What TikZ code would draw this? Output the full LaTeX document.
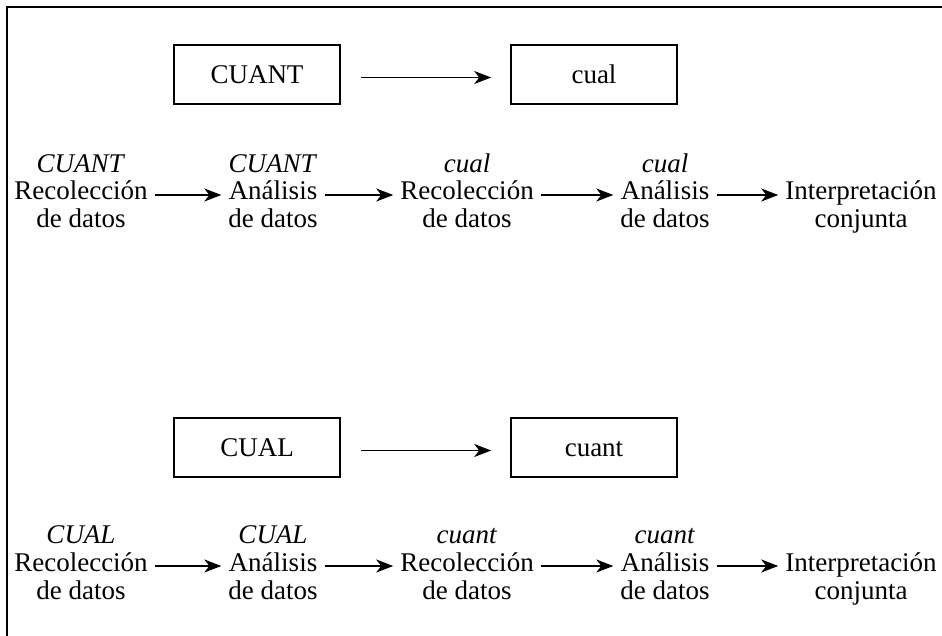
\documentclass[tikz,border=0pt]{standalone}
\usepackage{fontspec}
\setmainfont{Liberation Serif}
\usetikzlibrary{arrows.meta}
\begin{document}
\begin{tikzpicture}[x=0.5pt,y=-0.5pt,
        font=\fontsize{13.5}{14}\selectfont,
        >={Stealth[length=8.5pt,width=6.5pt,inset=2.5pt]}]
        \useasboundingbox (0,0) rectangle (942,636);
        \draw [line width=1pt] (942,7) -- (7,7) -- (7,636);

        \begin{scope}[every node/.style={draw, line width=0.8pt, minimum width=83pt, minimum height=29.5pt, text height=8.8pt, text depth=0pt}]
            \node (CUANT) at (257,74.5) {CUANT};
            \node (cual) at (594,74.5) {cual};
            \node (CUAL) at (257,447.5) {CUAL};
            \node (cuant) at (594,447.5) {cuant};
        \end{scope}

        \begin{scope}[every node/.style={align=center, anchor=base}]
            \node (a1) at (81,228) {\textit{CUANT}\\Recolección\\de datos};
            \node (a2) at (273,228) {\textit{CUANT}\\Análisis\\de datos};
            \node (a3) at (467,228) {\textit{cual}\\Recolección\\de datos};
            \node (a4) at (665,228) {\textit{cual}\\Análisis\\de datos};
            \node (a5) at (861,228) {Interpretación\\conjunta};
            \node (b1) at (81,599) {\textit{CUAL}\\Recolección\\de datos};
            \node (b2) at (273,599) {\textit{CUAL}\\Análisis\\de datos};
            \node (b3) at (467,599) {\textit{cuant}\\Recolección\\de datos};
            \node (b4) at (665,599) {\textit{cuant}\\Análisis\\de datos};
            \node (b5) at (861,599) {Interpretación\\conjunta};
        \end{scope}

        \begin{scope}[
                every edge/.style={draw, line width=0.8pt}]
            \path [->] ([yshift=-1.5pt]CUANT.east) edge [shorten <=10pt, shorten >=9.5pt] ([yshift=-1.5pt]cual.west);
            \path [->] ([yshift=-1.5pt]CUAL.east) edge [shorten <=10pt, shorten >=9.5pt] ([yshift=-1.5pt]cuant.west);
            \path [->] ([yshift=16.5pt]a1.base east) edge ([yshift=16.5pt]a2.base west);
            \path [->] ([yshift=16.5pt]a2.base east) edge ([yshift=16.5pt]a3.base west);
            \path [->] ([yshift=16.5pt]a3.base east) edge ([yshift=16.5pt]a4.base west);
            \path [->] ([yshift=16.5pt]a4.base east) edge ([yshift=16.5pt]a5.base west);
            \path [->] ([yshift=16.5pt]b1.base east) edge ([yshift=16.5pt]b2.base west);
            \path [->] ([yshift=16.5pt]b2.base east) edge ([yshift=16.5pt]b3.base west);
            \path [->] ([yshift=16.5pt]b3.base east) edge ([yshift=16.5pt]b4.base west);
            \path [->] ([yshift=16.5pt]b4.base east) edge ([yshift=16.5pt]b5.base west);
        \end{scope}
    \end{tikzpicture}
\end{document}
